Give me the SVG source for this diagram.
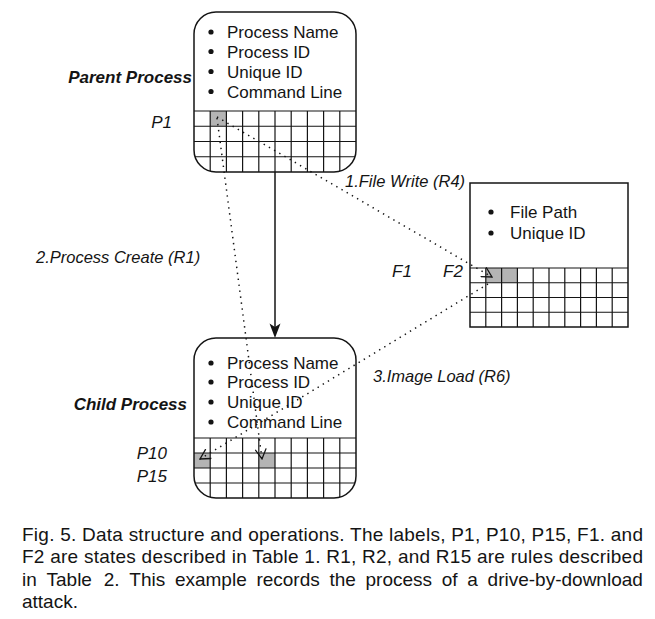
<svg xmlns="http://www.w3.org/2000/svg" width="655" height="619" viewBox="0 0 655 619">
<style>
text{font-family:"Liberation Sans",Arial,Helvetica,sans-serif;fill:#141414}
.bt{font-size:17px}
.lbl{font-size:17px;font-style:italic}
.name{font-size:17px;font-style:italic;font-weight:bold}
.cl{font-size:16.5px;font-style:italic}
.cap{font-size:19px}
.box{fill:none;stroke:#141414;stroke-width:1.5}
.grid{stroke:#141414;stroke-width:1.2;fill:none}
.shade{fill:#b4b4b4}
.dot{stroke:#141414;stroke-width:1.5;stroke-dasharray:1.4 4.6;fill:none}
.bul{fill:#141414}
</style>
<defs>
<clipPath id="clipP"><rect x="194" y="12" width="162" height="160" rx="22"/></clipPath>
<clipPath id="clipC"><rect x="194" y="338" width="162" height="160" rx="22"/></clipPath>
<marker id="open" viewBox="0 0 12 12" refX="11" refY="6" markerWidth="12" markerHeight="12" markerUnits="userSpaceOnUse" orient="auto">
<path d="M1,0.5 L11,6 L1,11.5" fill="none" stroke="#141414" stroke-width="1.3"/>
</marker>
</defs>
<rect width="655" height="619" fill="#fff"/>

<g id="parent">
<g clip-path="url(#clipP)">
<rect class="shade" x="210.2" y="111" width="16.2" height="15.25"/>
<path class="grid" d="M194,111H356M194,126.25H356M194,141.5H356M194,156.75H356M210.2,111V172M226.4,111V172M242.6,111V172M258.8,111V172M275,111V172M291.2,111V172M307.4,111V172M323.6,111V172M339.8,111V172"/>
</g>
<rect class="box" x="194" y="12" width="162" height="160" rx="22"/>
<circle class="bul" cx="211" cy="32" r="2.6"/><text class="bt" x="227" y="38">Process Name</text>
<circle class="bul" cx="211" cy="51.5" r="2.6"/><text class="bt" x="227" y="57.5">Process ID</text>
<circle class="bul" cx="211" cy="71.5" r="2.6"/><text class="bt" x="227" y="77.5">Unique ID</text>
<circle class="bul" cx="211" cy="91.5" r="2.6"/><text class="bt" x="227" y="97.5">Command Line</text>
<text class="name" x="192" y="83" text-anchor="end">Parent Process</text>
<text class="lbl" x="172" y="128" text-anchor="end">P1</text>
</g>

<g id="child">
<g clip-path="url(#clipC)">
<rect class="shade" x="194" y="453" width="16.2" height="15"/>
<rect class="shade" x="258.8" y="453" width="16.2" height="15"/>
<path class="grid" d="M194,438H356M194,453H356M194,468H356M194,483H356M210.2,438V498M226.4,438V498M242.6,438V498M258.8,438V498M275,438V498M291.2,438V498M307.4,438V498M323.6,438V498M339.8,438V498"/>
</g>
<rect class="box" x="194" y="338" width="162" height="160" rx="22"/>
<circle class="bul" cx="211" cy="363" r="2.6"/><text class="bt" x="227" y="369">Process Name</text>
<circle class="bul" cx="211" cy="382" r="2.6"/><text class="bt" x="227" y="388">Process ID</text>
<circle class="bul" cx="211" cy="402" r="2.6"/><text class="bt" x="227" y="408">Unique ID</text>
<circle class="bul" cx="211" cy="422" r="2.6"/><text class="bt" x="227" y="428">Command Line</text>
<text class="name" x="187" y="410" text-anchor="end">Child Process</text>
<text class="lbl" x="167" y="459" text-anchor="end">P10</text>
<text class="lbl" x="167" y="482" text-anchor="end">P15</text>
</g>

<g id="file">
<rect class="shade" x="485.8" y="268" width="31.6" height="14.75"/>
<path class="grid" d="M470,268H628M470,282.75H628M470,297.5H628M470,312.25H628M485.8,268V327M501.6,268V327M517.4,268V327M533.2,268V327M549,268V327M564.8,268V327M580.6,268V327M596.4,268V327M612.2,268V327"/>
<rect class="box" x="470" y="183" width="158" height="144"/>
<circle class="bul" cx="491" cy="212" r="2.6"/><text class="bt" x="510" y="218">File Path</text>
<circle class="bul" cx="491" cy="233" r="2.6"/><text class="bt" x="510" y="239">Unique ID</text>
<text class="lbl" x="392" y="277">F1</text>
<text class="lbl" x="443" y="277">F2</text>
</g>

<g id="connectors">
<line x1="275" y1="172" x2="275" y2="327" stroke="#141414" stroke-width="1.5"/>
<path d="M275,338 L269.5,323.5 L275,327 L280.5,323.5 Z" fill="#141414"/>
<line class="dot" x1="217" y1="117" x2="492" y2="277" marker-end="url(#open)"/>
<line class="dot" x1="217" y1="118" x2="262" y2="459" marker-end="url(#open)"/>
<line class="dot" x1="488" y1="284" x2="200" y2="459" marker-end="url(#open)"/>
<text class="cl" x="345" y="187">1.File Write (R4)</text>
<text class="cl" x="36" y="263">2.Process Create (R1)</text>
<text class="cl" x="373" y="382">3.Image Load (R6)</text>
</g>

<g id="caption">
<text class="cap" x="22" y="541" textLength="621" lengthAdjust="spacing">Fig. 5. Data structure and operations. The labels, P1, P10, P15, F1. and</text>
<text class="cap" x="22" y="563" textLength="621" lengthAdjust="spacing">F2 are states described in Table 1. R1, R2, and R15 are rules described</text>
<text class="cap" y="586"><tspan x="22">in</tspan><tspan x="46.5">Table</tspan><tspan x="103.7">2.</tspan><tspan x="129.3">This</tspan><tspan x="174.9">example</tspan><tspan x="256.4">records</tspan><tspan x="329.4">the</tspan><tspan x="365.5">process</tspan><tspan x="441.8">of</tspan><tspan x="467.3">a</tspan><tspan x="487.6">drive-by-download</tspan></text>
<text class="cap" x="22" y="608">attack.</text>
</g>
</svg>
